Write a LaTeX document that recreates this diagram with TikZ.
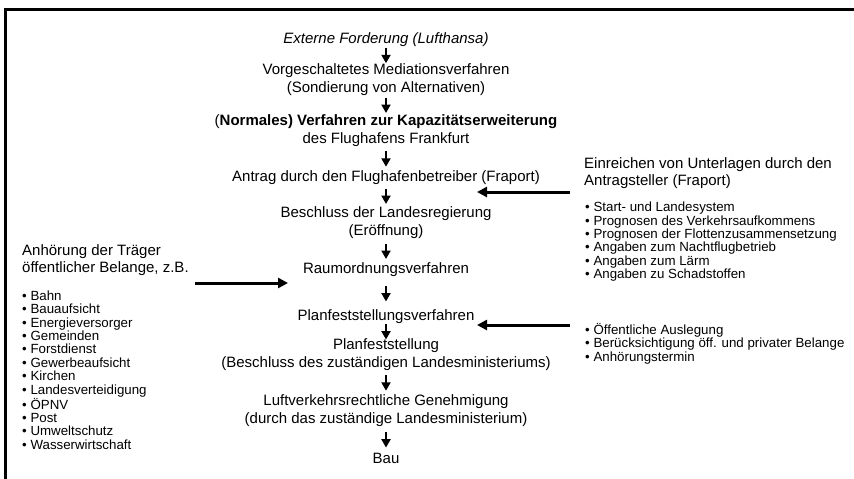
\documentclass[tikz,border=0pt]{standalone}
\usepackage{fontspec}
\setmainfont{Liberation Sans}
\usetikzlibrary{arrows.meta,calc}
\tikzset{
  stage/.style={align=center,inner sep=1pt,font=\fontsize{15}{18}\selectfont},
  note/.style={align=left,anchor=west,inner sep=0pt,font=\fontsize{15}{17}\selectfont},
  items/.style={align=left,anchor=west,inner sep=0pt,font=\fontsize{13.3}{13.4}\selectfont},
  flow/.style={-{Triangle[width=9pt,length=8.5pt]},line width=2.8pt},
  feed/.style={-{Triangle[width=10pt,length=10pt]},line width=3pt},
}
\begin{document}
\begin{tikzpicture}[x=1pt,y=-1pt]
\useasboundingbox (0,0) rectangle (854,479);
\draw[line width=3pt] (5.5,479) -- (5.5,9.5) -- (854,9.5);
% main chain
\node[stage,font=\fontsize{15}{18}\selectfont\itshape] (ext) at (386,40) {Externe Forderung (Lufthansa)};
\node[stage] (med) at (386,79.5) {Vorgeschaltetes Mediationsverfahren\\(Sondierung von Alternativen)};
\node[stage] (norm) at (386,130.5) {(\textbf{Normales) Verfahren zur Kapazitätserweiterung}\\des Flughafens Frankfurt};
\node[stage] (antrag) at (386,178) {Antrag durch den Flughafenbetreiber (Fraport)};
\node[stage] (beschl) at (386,223) {Beschluss der Landesregierung\\(Eröffnung)};
\node[stage] (raum) at (386,270) {Raumordnungsverfahren};
\node[stage] (planv) at (386,317) {Planfeststellungsverfahren};
\node[stage] (planf) at (386,355) {Planfeststellung\\(Beschluss des zuständigen Landesministeriums)};
\node[stage] (luft) at (386,410.5) {Luftverkehrsrechtliche Genehmigung\\(durch das zuständige Landesministerium)};
\node[stage] (bau) at (386,458) {Bau};
\foreach \a/\b in {ext/med,med/norm,norm/antrag,antrag/beschl,beschl/raum,raum/planv,planv/planf,planf/luft,luft/bau}
  \draw[flow] ($(\a.south)!.5!(\b.north)+(0,-7.5)$) -- +(0,15.5);
% right side
\node[note] (unterlagen) at (584,173.5) {Einreichen von Unterlagen durch den\\Antragsteller (Fraport)};
\node[items] (angaben) at (585,241.7) {\textbullet\ Start- und Landesystem\\\textbullet\ Prognosen des Verkehrsaufkommens\\\textbullet\ Prognosen der Flottenzusammensetzung\\\textbullet\ Angaben zum Nachtflugbetrieb\\\textbullet\ Angaben zum Lärm\\\textbullet\ Angaben zu Schadstoffen};
\node[items] (auslegung) at (585,343.5) {\textbullet\ Öffentliche Auslegung\\\textbullet\ Berücksichtigung öff. und privater Belange\\\textbullet\ Anhörungstermin};
% left side
\node[note] (anhoerung) at (22,260.5) {Anhörung der Träger\\öffentlicher Belange, z.B.};
\node[items] (traeger) at (22,370) {\textbullet\ Bahn\\\textbullet\ Bauaufsicht\\\textbullet\ Energieversorger\\\textbullet\ Gemeinden\\\textbullet\ Forstdienst\\\textbullet\ Gewerbeaufsicht\\\textbullet\ Kirchen\\\textbullet\ Landesverteidigung\\\textbullet\ ÖPNV\\\textbullet\ Post\\\textbullet\ Umweltschutz\\\textbullet\ Wasserwirtschaft};
% side arrows
\coordinate (srcA) at (570,192);
\coordinate (tipA) at (477,192);
\coordinate (srcB) at (570,325);
\coordinate (tipB) at (477,325);
\coordinate (srcC) at (195,283);
\coordinate (tipC) at (288,283);
\draw[feed] (srcA) -- (tipA);
\draw[feed] (srcB) -- (tipB);
\draw[feed] (srcC) -- (tipC);
\end{tikzpicture}
\end{document}
